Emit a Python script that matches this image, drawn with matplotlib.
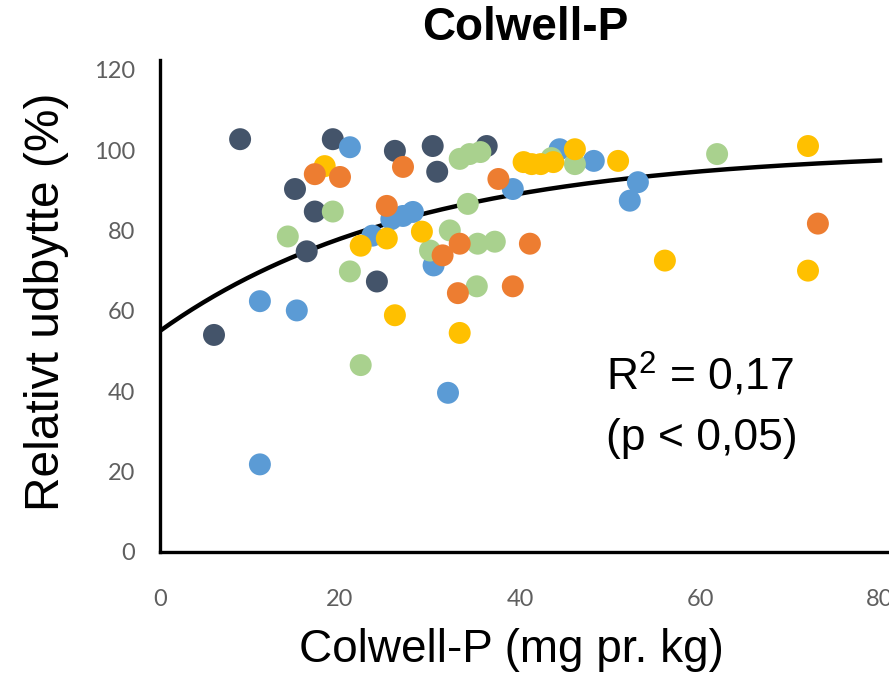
import numpy as np
import matplotlib.pyplot as plt

plt.rcParams["font.family"] = ["Liberation Sans", "DejaVu Sans"]
plt.rcParams["mathtext.fontset"] = "custom"
plt.rcParams["mathtext.rm"] = "Liberation Sans"

# ---------------- data ----------------
navy_x = [6.0, 8.9, 15.0, 17.2, 16.3, 19.2, 26.1, 24.1, 30.3, 30.8, 36.3]
navy_y = [54, 102.7, 90.3, 84.7, 74.8, 102.7, 99.8, 67.3, 101, 94.6, 101]

blue_x = [21.1, 11.1, 15.2, 11.1, 32.0, 27.0, 28.1, 25.7, 30.4, 39.2, 44.4, 48.2, 53.1, 52.2, 23.6]
blue_y = [100.7, 62.4, 60.1, 21.8, 39.6, 83.6, 84.6, 82.8, 71.3, 90.3, 100.2, 97.3, 92, 87.4, 78.7]

green_x = [14.2, 19.2, 21.1, 22.3, 33.3, 34.4, 35.6, 34.2, 32.2, 30.0, 35.3, 37.2, 35.2, 46.1, 61.9, 43.5]
green_y = [78.5, 84.7, 69.8, 46.5, 97.8, 99, 99.5, 86.6, 80, 75, 76.7, 77.2, 66.1, 96.5, 99, 98]

yellow_x = [18.3, 22.3, 25.2, 26.1, 29.1, 40.4, 41.3, 42.3, 43.7, 46.1, 50.9, 56.1, 72.0, 72.0, 33.3]
yellow_y = [96, 76.2, 78, 58.9, 79.7, 97, 96.5, 96.5, 97, 100.2, 97.3, 72.5, 101, 70, 54.5]

orange_x = [17.2, 20.0, 27.0, 25.2, 37.6, 33.3, 31.4, 41.1, 33.1, 39.2, 73.1]
orange_y = [94, 93.3, 95.8, 86.1, 92.8, 76.7, 73.8, 76.7, 64.4, 66.1, 81.7]

series = [
    (navy_x, navy_y, "#44546A"),
    (blue_x, blue_y, "#5B9BD5"),
    (green_x, green_y, "#A9D18E"),
    (yellow_x, yellow_y, "#FFC000"),
    (orange_x, orange_y, "#ED7D31"),
]

# fitted curve y = A - B*exp(-c*x)
fit_A, fit_B, fit_c = 100.0, 45.0, 0.0356

xticks = [0, 20, 40, 60, 80]
yticks = [0, 20, 40, 60, 80, 100, 120]

# ---------------- figure ----------------
fig = plt.figure(figsize=(8.89, 6.80), dpi=100)
ax = fig.add_axes([160 / 889, 128 / 680, 747 / 889, 492 / 680])

xf = np.linspace(0, 80.0, 200)
ax.plot(xf, fit_A - fit_B * np.exp(-fit_c * xf), color="black", lw=3.2, zorder=2)

for xs, ys, col in series:
    ax.scatter(xs, ys, s=250, color=col, edgecolors="none", zorder=3)

ax.set_xlim(0, 83)
ax.set_ylim(0, 122.4)
ax.set_xticks(xticks)
ax.set_yticks(yticks)
ax.tick_params(length=0, labelsize=17, labelcolor="#5f5f5f")
ax.tick_params(axis="y", pad=18)
ax.tick_params(axis="x", pad=27)
for lab in ax.get_xticklabels() + ax.get_yticklabels():
    lab.set_fontfamily(["Lato", "DejaVu Sans"])

for side in ["top", "right"]:
    ax.spines[side].set_visible(False)
for side in ["left", "bottom"]:
    ax.spines[side].set_linewidth(2.4)
    ax.spines[side].set_color("black")

ax.set_xlabel("Colwell-P (mg pr. kg)", fontsize=33)
ax.xaxis.label.set_verticalalignment("center")
ax.xaxis.set_label_coords((511 - 160) / 747, -(650 - 552) / 492)
ax.set_ylabel("Relativt udbytte (%)", fontsize=34.5)
ax.yaxis.set_label_coords(-(160 - 47) / 747, (552 - 302) / 492)
ax.yaxis.label.set_verticalalignment("center")

fig.text(525 / 889, 1 - 28 / 680, "Colwell-P", fontsize=33, fontweight="bold",
         ha="center", va="center")

ax.text(49.6, 44.0, "R$^{2}$ = 0,17", fontsize=32, ha="left", va="center")
ax.text(49.6, 28.3, "(p < 0,05)", fontsize=32, ha="left", va="center")

fig.savefig("out.png", dpi=100)
